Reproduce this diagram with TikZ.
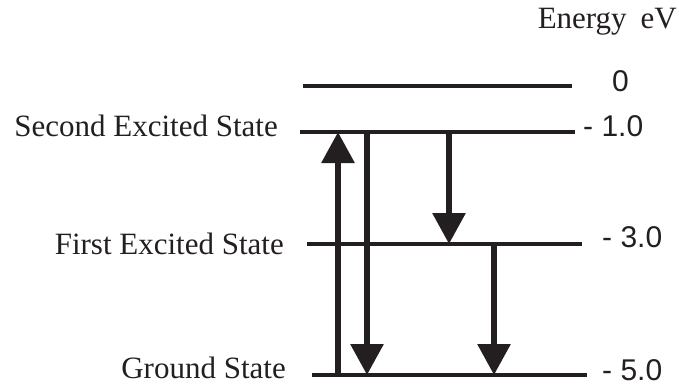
\documentclass[tikz,border=0pt]{standalone}
\usepackage{fontspec}
\setmainfont{Liberation Serif}
\newfontfamily\numfont{Liberation Sans}
\usetikzlibrary{arrows.meta}
\definecolor{ink}{HTML}{231F20}
\tikzset{
  level/.style={draw=ink, line width=3.8pt},
  jump/.style={draw=ink, line width=6pt, -{Triangle[width=32pt,length=31pt]}},
  statelabel/.style={anchor=base east, inner sep=0pt, text=ink, font=\fontsize{31}{36}\selectfont},
  energylabel/.style={anchor=base west, inner sep=0pt, text=ink, font=\numfont\fontsize{30}{35}\selectfont},
}
\begin{document}
\begin{tikzpicture}[x=1pt, y=-1pt]
  \useasboundingbox (0,0) rectangle (679,385);

  % energy levels
  \coordinate (zL) at (303,86);   \coordinate (zR) at (572,86);
  \coordinate (sL) at (300,132);  \coordinate (sR) at (575,132);
  \coordinate (fL) at (307,244);  \coordinate (fR) at (582,244);
  \coordinate (gL) at (312,375);  \coordinate (gR) at (587,375);
  \draw[level] (zL) -- (zR);
  \draw[level] (sL) -- (sR);
  \draw[level] (fL) -- (fR);
  \draw[level] (gL) -- (gR);

  % transition end points on the levels
  \coordinate (upG) at (338,375);  \coordinate (upS) at (338,132);
  \coordinate (d1S) at (367,132);  \coordinate (d1G) at (367,375);
  \coordinate (d2S) at (449,132);  \coordinate (d2F) at (449,244);
  \coordinate (d3F) at (494,244);  \coordinate (d3G) at (494,375);
  \draw[jump] (upG) -- (upS);
  \draw[jump] (d1S) -- (d1G);
  \draw[jump] (d2S) -- (d2F);
  \draw[jump] (d3F) -- (d3G);

  % state names
  \node[statelabel] (ns) at (278,136) {Second Excited State};
  \node[statelabel] (nf) at (284,254) {First Excited State};
  \node[statelabel] (ng) at (286,378) {Ground State};

  % energy values
  \node[anchor=base east, inner sep=0pt, text=ink, font=\fontsize{31}{36}\selectfont] (unit) at (677,29) {Energy\hspace{0.45em}eV};
  \node[energylabel] (e0) at (612,92) {0};
  \node[energylabel] (e1) at (583,136) {- 1.0};
  \node[energylabel] (e3) at (602,247) {- 3.0};
  \node[energylabel] (e5) at (602,380) {- 5.0};
\end{tikzpicture}
\end{document}
